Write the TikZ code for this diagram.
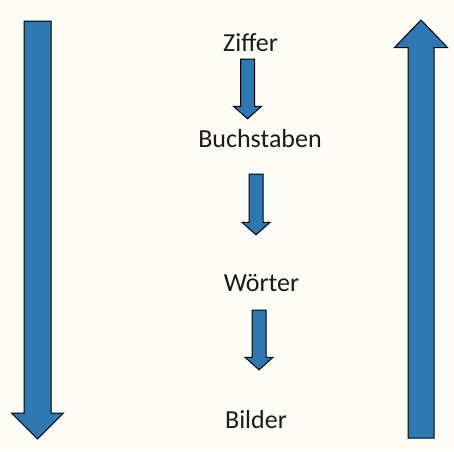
\documentclass[tikz,border=0pt]{standalone}
\usepackage{fontspec}
\setmainfont{Carlito}
\usetikzlibrary{calc}
\definecolor{arrowblue}{RGB}{47, 119, 176}
\definecolor{paper}{RGB}{253, 252, 247}
\definecolor{textdark}{RGB}{26, 26, 26}

\begin{document}
\begin{tikzpicture}[
    x=1pt, y=-1pt,
    word/.style={inner sep=0pt, anchor=base, text height=18pt, text depth=5pt, font=\fontsize{26}{30}\selectfont, color=textdark},
    blockarrow/.style n args={3}{draw=black, line width=1pt, fill=arrowblue, line join=miter, to path={
        ($(\tikztotarget)!#3!(\tikztostart)$) coordinate (headbase)
        ($(\tikztostart)!#1!90:(\tikztotarget)$) -- ($(headbase)!#1!-90:(\tikztostart)$)
        -- ($(headbase)!#2!-90:(\tikztostart)$) -- (\tikztotarget)
        -- ($(headbase)!#2!90:(\tikztostart)$) -- ($(headbase)!#1!90:(\tikztostart)$)
        -- ($(\tikztostart)!#1!-90:(\tikztotarget)$) -- cycle}},
    smallarrow/.style={blockarrow={7pt}{14pt}{12.5pt}},
]

% Background
\fill[paper] (0,0) rectangle (454,451);
\useasboundingbox (0,0) rectangle (454,451);

% Words
\node[word] (ziffer) at (250.5, 51) {Ziffer};
\node[word] (buchstaben) at (260, 147) {Buchstaben};
\node[word] (woerter) at (261.5, 291) {Wörter};
\node[word] (bilder) at (256, 428) {Bilder};

% Arrows between the words
\coordinate (zb-start) at ($(ziffer.south)+(-3,3)$);
\coordinate (zb-end) at ($(zb-start |- buchstaben.north)+(0,-10)$);
\coordinate (bw-start) at ($(buchstaben.south)+(-4,22)$);
\coordinate (bw-end) at ($(bw-start |- woerter.north)+(0,-38)$);
\coordinate (wb-start) at ($(woerter.south)+(-2.5,14)$);
\coordinate (wb-end) at ($(wb-start |- bilder.north)+(0,-40)$);

\draw[smallarrow] (zb-start) to (zb-end);
\draw[smallarrow] (bw-start) to (bw-end);
\draw[smallarrow] (wb-start) to (wb-end);

% Long arrows at the sides
\coordinate (down-top) at (37.5, 21);
\coordinate (down-tip) at (37.5, 439);
\coordinate (up-foot) at (421, 438);
\coordinate (up-tip) at (421, 20);

\draw[blockarrow={13.5pt}{26pt}{26pt}] (down-top) to (down-tip);
\draw[blockarrow={13pt}{26.5pt}{27.5pt}] (up-foot) to (up-tip);

\end{tikzpicture}
\end{document}
